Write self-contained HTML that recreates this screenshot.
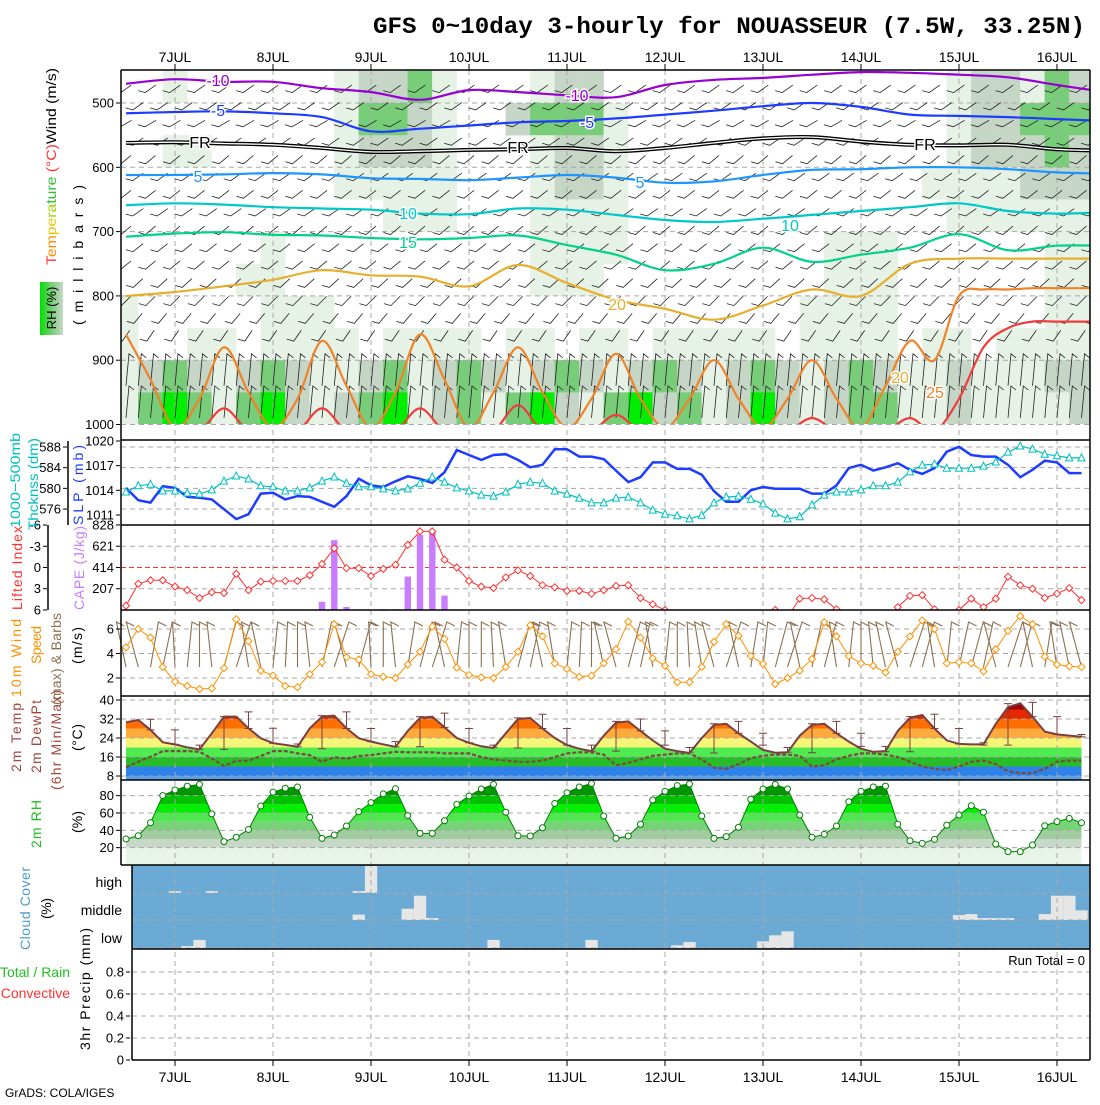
<!DOCTYPE html>
<html><head><meta charset="utf-8"><title>GFS meteogram NOUASSEUR</title>
<style>
body{margin:0;background:#fff;width:1100px;height:1100px;overflow:hidden}
svg text{font-family:"Liberation Sans",sans-serif}
</style></head>
<body>
<svg id="c" width="1100" height="1100" viewBox="0 0 1100 1100" xmlns="http://www.w3.org/2000/svg">
<defs>
<clipPath id="clipTop"><rect x="121" y="70" width="969" height="354"/></clipPath>
<clipPath id="clipLI"><rect x="121" y="525" width="969" height="85"/></clipPath>
<linearGradient id="rhKey" x1="0" x2="1" y1="0" y2="0"><stop offset="0" stop-color="#00e000"/><stop offset="0.5" stop-color="#78cd78"/><stop offset="1" stop-color="#c8d8c8"/></linearGradient>
</defs>
<rect x="0" y="0" width="1100" height="1100" fill="#fff"/>
<g id="gFill"></g>
<g id="gGrid"></g>
<g id="gMarks"></g>
<g id="gText"></g>

<text x="373" y="33" font-family="Liberation Mono, monospace" style="font-family:'Liberation Mono',monospace" font-weight="bold" font-size="23" textLength="712" lengthAdjust="spacingAndGlyphs">GFS 0~10day 3-hourly for NOUASSEUR (7.5W, 33.25N)</text>

<text transform="rotate(-90 56 265)" x="56" y="265" font-size="14" textLength="197" lengthAdjust="spacingAndGlyphs"><tspan fill="#ff3030">T</tspan><tspan fill="#ff8c00">em</tspan><tspan fill="#e6c800">pe</tspan><tspan fill="#a0d000">ra</tspan><tspan fill="#30c030">ture</tspan><tspan fill="#ff3030"> (°C)</tspan><tspan fill="#000">Wind (m/s)</tspan></text>
<rect x="40" y="282" width="23" height="53" fill="url(#rhKey)"/>
<text transform="rotate(-90 56 308)" x="56" y="308" font-size="13" text-anchor="middle">RH (%)</text>
<text transform="rotate(-90 83 325)" x="83" y="325" font-size="14" textLength="140" lengthAdjust="spacing">(millibars)</text>

<text transform="rotate(-90 20 528)" x="20" y="528" font-size="14" fill="#00c0c0" textLength="95" lengthAdjust="spacingAndGlyphs">1000−500mb</text>
<text transform="rotate(-90 38 530)" x="38" y="530" font-size="14" fill="#00c0c0" textLength="92" lengthAdjust="spacingAndGlyphs">Thcknss (dm)</text>
<text transform="rotate(-90 83 525)" x="83" y="525" font-size="14" fill="#1e3cff" textLength="80" lengthAdjust="spacing">SLP (mb)</text>
<text transform="rotate(-90 22 610)" x="22" y="610" font-size="14" fill="#ff3030" textLength="84" lengthAdjust="spacing">Lifted Index</text>
<text transform="rotate(-90 84 610)" x="84" y="610" font-size="14" fill="#c87cff" textLength="84" lengthAdjust="spacing">CAPE (J/kg)</text>
<text transform="rotate(-90 21 697)" x="21" y="697" font-size="14" fill="#ff9000" textLength="78" lengthAdjust="spacing">10m Wind</text>
<text transform="rotate(-90 41 664)" x="41" y="664" font-size="14" fill="#ff9000" textLength="38" lengthAdjust="spacing">Speed</text>
<text transform="rotate(-90 61 705)" x="61" y="705" font-size="14" fill="#8c7050" textLength="92" lengthAdjust="spacing">(max) &amp; Barbs</text>
<text transform="rotate(-90 82 664)" x="82" y="664" font-size="14" textLength="37" lengthAdjust="spacing">(m/s)</text>
<text transform="rotate(-90 21 772)" x="21" y="772" font-size="14" fill="#a0463c" textLength="69" lengthAdjust="spacing">2m Temp</text>
<text transform="rotate(-90 41 773)" x="41" y="773" font-size="14" fill="#a0463c" textLength="73" lengthAdjust="spacing">2m DewPt</text>
<text transform="rotate(-90 61 790)" x="61" y="790" font-size="14" fill="#a0463c" textLength="100" lengthAdjust="spacing">(6hr Min/Max)</text>
<text transform="rotate(-90 82 751)" x="82" y="751" font-size="14" textLength="27" lengthAdjust="spacing">(°C)</text>
<text transform="rotate(-90 41 848)" x="41" y="848" font-size="14" fill="#20c020" textLength="48" lengthAdjust="spacing">2m RH</text>
<text transform="rotate(-90 82 833)" x="82" y="833" font-size="14" textLength="22" lengthAdjust="spacing">(%)</text>
<text transform="rotate(-90 30 950)" x="30" y="950" font-size="14" fill="#4a9ad0" textLength="83" lengthAdjust="spacing">Cloud Cover</text>
<text transform="rotate(-90 51 919)" x="51" y="919" font-size="14" textLength="21" lengthAdjust="spacing">(%)</text>
<text x="122" y="887" font-size="14" text-anchor="end">high</text>
<text x="122" y="915" font-size="14" text-anchor="end">middle</text>
<text x="122" y="943" font-size="14" text-anchor="end">low</text>
<text x="70" y="977" font-size="14" text-anchor="end" fill="#20c020">Total / Rain</text>
<text x="70" y="998" font-size="14" text-anchor="end" fill="#ff3030">Convective</text>
<text transform="rotate(-90 90 1050)" x="90" y="1050" font-size="14" textLength="122" lengthAdjust="spacing">3hr Precip (mm)</text>
<text x="1085" y="965" font-size="13" text-anchor="end">Run Total = 0</text>
<text x="5" y="1097" font-size="12">GrADS: COLA/IGES</text>
</svg>
<script>
const days = ['7JUL','8JUL','9JUL','10JUL','11JUL','12JUL','13JUL','14JUL','15JUL','16JUL'];
const slp = [1014.3,1012.8,1012.5,1014.5,1014.3,1013.2,1013.1,1012.9,1011.7,1010.5,1011.1,1013.6,1013.7,1012.9,1013.3,1013.2,1012.6,1012.0,1013.3,1015.4,1014.6,1014.4,1015.1,1015.7,1015.4,1014.9,1016.2,1018.9,1018.3,1017.7,1018.3,1018.4,1017.7,1016.8,1017.1,1019.0,1019.0,1018.1,1018.1,1017.8,1016.4,1015.0,1015.6,1017.4,1017.4,1016.6,1016.6,1015.9,1013.9,1012.6,1012.6,1014.0,1014.4,1014.2,1014.2,1014.2,1013.6,1013.6,1014.6,1016.7,1017.1,1016.4,1016.8,1017.3,1016.5,1016.0,1016.7,1018.7,1019.3,1018.3,1018.1,1018.1,1017.1,1015.6,1016.5,1017.6,1017.4,1016.1,1016.1];
const thick = [579.3,580.5,580.8,579.5,579.5,579.1,578.9,579.7,581.4,582.4,581.8,580.5,580.3,579.5,579.5,580.1,581.4,582.2,581.0,580.3,580.3,579.9,579.5,579.9,581.0,582.2,581.2,580.1,579.5,578.7,578.5,579.3,580.8,581.2,581.0,579.5,578.9,578.1,577.2,577.2,578.1,578.3,577.2,575.8,575.0,574.7,574.1,574.8,577.2,578.3,578.5,577.9,577.0,575.2,574.1,574.5,576.8,578.7,579.3,579.3,579.7,580.5,580.5,581.2,583.2,584.5,584.7,583.9,583.9,583.9,584.3,585.1,587.0,588.2,587.6,586.6,586.3,585.9,585.9];
const liftedIndex = [5.4,2.3,1.8,1.8,2.7,3.2,4.3,3.5,3.6,0.9,3.2,2.0,1.9,1.9,1.9,1.1,-0.5,-2.7,0.1,0.1,1.2,0.2,-0.4,-3.2,-5.1,-5.1,-1.1,0.0,1.9,2.7,2.9,1.4,0.4,1.2,2.5,2.8,3.3,3.3,3.7,3.2,2.6,2.5,4.3,5.2,6.0,8,8,8,8,8,8,8,8,6.0,7,4.4,4.3,4.5,5.9,8,8,8,8,5.6,4.0,3.9,5.9,7,6.0,4.4,5.6,4.4,1.3,2.5,3.0,4.3,3.7,2.9,4.6];
const cape = [0,0,0,0,0,0,0,0,0,10,0,0,0,0,0,0,80,680,30,0,0,8,8,325,730,770,140,0,0,0,0,0,0,0,0,0,0,0,0,0,0,0,0,0,0,0,0,0,0,0,0,0,0,0,0,0,0,0,0,0,0,0,0,0,0,0,0,0,0,0,0,0,0,0,0,0,0,0,0];
const windSpeed = [4.5,6.0,5.3,2.9,1.7,1.35,1.1,1.15,2.8,6.8,5.0,2.6,2.2,1.35,1.25,2.3,3.3,6.4,3.7,3.5,2.3,2.1,2.0,3.1,4.15,6.2,5.2,2.85,2.25,2.05,2.0,2.9,4.15,6.3,5.4,3.2,2.75,2.1,2.2,3.2,4.35,6.6,5.3,3.6,3.0,1.65,1.65,2.9,4.95,6.4,5.45,3.8,3.15,1.5,2.0,2.6,3.55,6.55,5.4,3.8,3.2,3.0,2.45,4.15,5.4,6.7,6.0,3.2,3.3,3.2,2.55,4.35,5.85,7.05,6.4,3.75,3.1,2.95,2.9];
const windTilt = [-12,-15,10,12,-3,6,0,-6,15,18,-9,-12,6,3,0,-6,12,18,-15,15,-3,0,-6,9,15,18,-12,6,0,0,-3,-9,15,12,-12,-9,6,3,0,-12,-15,15,12,-9,6,0,-3,-9,-15,18,-12,9,6,15,18,-12,12,15,-9,6,0,-6,-12,-15,18,15,-9,6,12,15,12,-15,18,15,-12,9,-9,-12,-15];
const temp2m = [30.6,31.6,27.4,22.2,21.3,20.1,19.2,26,33,33,28.1,23.9,21.8,21.1,20.3,28.1,33,33.4,28.1,23.9,22.5,21.3,20.3,27,32.5,33,28.5,24,22,20.5,19.8,26,32,32.4,28,24,21,19.5,18.5,25,30.5,31,27,23,19.5,18.5,17.7,24,29.5,30,26,22.5,19,17.8,18,25,29.5,30,26,22.5,19.5,18.2,18.5,27,32.5,33.7,28,23,21.5,21.3,21.3,30,37,38.6,33,26.7,25.5,25,24.5];
const dewpt2m = [11.7,14,16.1,18.5,18.5,18.5,18.2,15.4,12.2,14.4,14.4,16.4,18.5,18.5,17.5,16.8,14,15.9,15.3,16.4,16.8,17.5,18.2,18,18,18,17.5,17.5,17.5,16,15,14.5,14,14,14.5,16,17.5,18,18,17,12.5,13.5,15,16.5,17,17.5,17.5,15,11.5,11,13,15.5,16.5,17,17,16.5,12,12.5,15,16.5,17.5,17.5,17,16,14,12,11,10.5,12,14,14.5,13,10,9.2,9.2,11,14,14.5,14.5];
const tmax6 = [31.9,27.4,21,33,35,28.1,21.5,33.4,35,28,22.5,33,34.5,28,21,32.5,34,28,21,31,32,27,20,30,31,26,20,30,31,26,20.5,33,34,28,22,38.5,39,33,25.5];
const tmin6 = [27.4,21.3,19.2,19.2,28,21.8,20.3,19.5,28,22.5,20.3,20.3,28.5,22,20,19.8,28,21,18.5,18.5,27,21,18,17.7,26,21,18,17.8,26,20.5,18.2,18.2,28,21.5,21,21,33,25.5,24.5];
const rh2m = [30,33.8,48.8,80,86.5,91,93,59,27,32,41,68,84,88.5,90,55,30.7,34.6,45,61.5,72,82,88,57,36.5,36.5,51,70,79.6,87.7,93,60.8,33.8,33.5,43,71,83.4,90,94,56.5,30.7,33.5,47,75,85,91.5,93.4,56.5,30.7,32.7,43.5,75.8,87.7,93,87.7,57.7,32,35.4,45,73,85,90,91,47,28,25,29.6,46,57.7,68.4,60.8,24.2,15.4,15.4,23,45.3,50,53.8,48.8];
const cloudHigh = [0,0,0,0,7,0,0,7,0,0,0,0,0,0,0,0,0,0,0,7,100,0,0,0,0,0,0,0,0,0,0,0,0,0,0,0,0,0,0,0,0,0,0,0,0,0,0,0,0,0,0,0,0,0,0,0,0,0,0,0,0,0,0,0,0,0,0,0,0,0,0,0,0,0,0,0,0,0,0];
const cloudMid = [0,0,0,0,0,0,0,0,0,0,0,0,0,0,0,0,0,0,0,20,0,0,0,42,90,7,0,0,0,0,0,0,0,0,0,0,0,0,0,0,0,0,0,0,0,0,0,0,0,0,0,0,0,0,0,0,0,0,0,0,0,0,0,0,0,0,0,0,18,22,7,7,7,0,0,22,90,90,36];
const cloudLow = [0,0,0,0,0,7,30,0,0,0,0,0,0,0,0,0,0,0,0,0,0,0,0,0,0,0,0,0,0,0,30,0,0,0,0,0,0,0,30,0,0,0,0,0,0,10,22,0,0,0,0,0,25,47,62,0,0,0,0,0,0,0,0,0,0,0,0,0,0,0,0,0,0,0,0,0,0,0,0];
const precip = [0,0,0,0,0,0,0,0,0,0,0,0,0,0,0,0,0,0,0,0,0,0,0,0,0,0,0,0,0,0,0,0,0,0,0,0,0,0,0,0,0,0,0,0,0,0,0,0,0,0,0,0,0,0,0,0,0,0,0,0,0,0,0,0,0,0,0,0,0,0,0,0,0,0,0,0,0,0,0];
// isotherm pressures every 12h from 6JUL12Z
const isoM10 = [470,463,467,467,477,483,495,480,483,488,491,472,464,461,456,452,453,456,460,472,483];
const isoM5 = [516,514,513,516,522,544,540,535,530,528,524,518,512,505,500,506,518,520,522,525,528];
const isoFR = [562,561,563,565,570,576,575,573,572,570,575,570,562,555,553,560,565,566,565,572,574];
const iso5 = [612,612,611,609,611,617,618,620,616,612,616,624,622,612,604,603,600,600,603,608,610];
const iso10 = [659,656,658,662,664,666,672,673,664,666,674,682,685,680,674,668,662,656,668,672,670];
const iso15 = [708,703,701,705,706,710,712,710,706,721,736,760,750,725,747,736,725,704,729,722,722];
const iso20 = [800,794,785,775,760,768,770,785,752,780,806,820,837,815,790,800,750,742,742,742,742];
// near-surface isotherms every 6h from 6JUL12Z
const iso25 = [860,930,1005,960,880,950,1005,960,870,940,1005,950,860,930,1005,950,880,950,1005,960,890,960,1005,960,900,960,1005,960,900,960,1005,940,870,900,800,790,790,788,788,788,788];
const iso30 = [1010,1010,1010,1010,975,1010,1010,1010,975,1010,1010,1010,975,1010,1010,1010,970,1010,1010,1010,985,1010,1010,1010,1010,1010,1010,1010,990,1010,1010,1010,990,1010,960,880,850,840,840,840,840];
const rhLayerTops = [450,500,550,600,650,700,750,800,850,900,950];
const rhGrid = [
 "0010000001223100012200000000000000122132",
 "0000000001332100233310000000000000122333",
 "0011000001222100012210000000000000122232",
 "0000000001111100012210000000000001111222",
 "0000000000011100011110000000000000111111",
 "0000001000000000011110000000011100000011",
 "0000011000000000011100000000011100000011",
 "1000001110000000000000000000111100000011",
 "1001101111011110110110111110111101101111",
 "1232123211231232123212321232123211211122",
 "1343134212341231342134231242123311211112"
];
const rhColors = ['none','#e6f2e6','#c6d6c6','#78cd78','#00ee00'];
const barbLevels = [478,505,532,560,588,615,642,670,698,725,752,780,808,835,862];
const barbAngles = [35,35,30,35,40,35,38,35,40,38,40,42,45,50,55];
const lowBarbLevels = [915,965];

const NS = 'http://www.w3.org/2000/svg';
const gFill = document.getElementById('gFill');
const gGrid = document.getElementById('gGrid');
const gMarks = document.getElementById('gMarks');
const gText = document.getElementById('gText');
function mk(tag, attrs, parent){const e=document.createElementNS(NS,tag);for(const k in attrs)e.setAttribute(k,attrs[k]);parent.appendChild(e);return e;}
const X = i => 126 + 12.25*i;
const DX = d => 175 + 98*d;
const PY = p => 103 + (p-500)*0.643;
const slpY = v => 441 + (1020-v)*8.22;
const thkY = v => 447 + (588-v)*5.17;
const liY = v => 567.5 + v*7.08;
const capeY = v => 610 - v*0.1027;
const wsY = v => 629 + (6-v)*12.25;
const tY = v => 700 + (40-v)*2.375;
const rhY = v => 865 - v*0.867;
const prY = v => 1060 - v*110;
const N = slp.length;

function smoothPath(pts){
  let d = 'M'+pts[0][0].toFixed(1)+','+pts[0][1].toFixed(1);
  for(let i=0;i<pts.length-1;i++){
    const p0=pts[Math.max(i-1,0)],p1=pts[i],p2=pts[i+1],p3=pts[Math.min(i+2,pts.length-1)];
    const c1=[p1[0]+(p2[0]-p0[0])/6,p1[1]+(p2[1]-p0[1])/6];
    const c2=[p2[0]-(p3[0]-p1[0])/6,p2[1]-(p3[1]-p1[1])/6];
    d+=' C'+c1[0].toFixed(1)+','+c1[1].toFixed(1)+' '+c2[0].toFixed(1)+','+c2[1].toFixed(1)+' '+p2[0].toFixed(1)+','+p2[1].toFixed(1);
  }
  return d;
}
function polyPts(arr, yf){return arr.map((v,i)=>X(i).toFixed(1)+','+yf(v).toFixed(1)).join(' ');}

const topFill = mk('g',{'clip-path':'url(#clipTop)'},gFill);


rhLayerTops.forEach((pTop,r)=>{
  const row = rhGrid[r];
  for(let c=0;c<row.length;c++){
    const k = +row[c]; if(!k) continue;
    const xc = DX(-0.5+0.25*c);
    const cell = mk('rect',{x:(xc-12.4).toFixed(1),y:PY(pTop).toFixed(1),width:24.8,height:(PY(pTop+50)-PY(pTop)+0.3).toFixed(1),fill:rhColors[k]},topFill);
    
    
  }
});

const tClip = mk('clipPath',{id:'clipT'},gFill);
mk('polygon',{points:X(0)+',780 '+polyPts(temp2m,tY)+' '+X(N-1)+',780'},tClip);
const tBands = [[-10,8,'#5aa0e6'],[8,12,'#2d82eb'],[12,16,'#28bc28'],[16,20,'#50eb50'],[20,24,'#f5f578'],[24,28,'#ffaa3c'],[28,32,'#ff6e00'],[32,36,'#e62800'],[36,45,'#a00000']];
const tg = mk('g',{'clip-path':'url(#clipT)'},gFill);


tBands.forEach(b=>{const r=mk('rect',{x:121,y:Math.max(tY(b[1]),697),width:969,height:Math.min(tY(b[0]),780)-Math.max(tY(b[1]),697),fill:b[2]},tg);
  
  });

const rClip = mk('clipPath',{id:'clipRH'},gFill);
mk('polygon',{points:X(0)+',865 '+polyPts(rh2m,rhY)+' '+X(N-1)+',865'},rClip);
const rBands = [[0,20,'#e8f4e8'],[20,30,'#c8d8c8'],[30,40,'#a0cca0'],[40,50,'#78d278'],[50,60,'#50e650'],[60,70,'#00f000'],[70,80,'#00c000'],[80,100,'#009600']];
const rg = mk('g',{'clip-path':'url(#clipRH)'},gFill);


rBands.forEach(b=>{const r=mk('rect',{x:121,y:Math.max(rhY(b[1]),781),width:969,height:rhY(b[0])-Math.max(rhY(b[1]),781),fill:b[2]},rg);
  
  });

const cbg = mk('rect',{x:132,y:865,width:958,height:84,fill:'#6aaad4'},gFill);


[[cloudHigh,893],[cloudMid,920],[cloudLow,948]].forEach(([arr,base])=>{
  arr.forEach((v,i)=>{ if(!v) return;
    const h = v*0.27;
    const r = mk('rect',{x:(X(i)-6.1).toFixed(1),y:(base-h).toFixed(1),width:12.3,height:h.toFixed(1),fill:'#e6e6e6'},gFill);
    
    
  });
});

const gridStyle = {stroke:'#a8a8a8','stroke-width':1,'stroke-dasharray':'5,4',fill:'none'};
days.forEach((d,k)=>{
  const l = mk('line',Object.assign({x1:DX(k),x2:DX(k),y1:70,y2:1060},gridStyle),gGrid);
  
  
});
const hLines = [];
[500,600,700,800,900,1000].forEach(p=>hLines.push([PY(p),121]));
[588,584,580,576].forEach(v=>hLines.push([thkY(v),121]));
[-3,3].forEach(v=>hLines.push([liY(v),121]));
[6,4,2].forEach(v=>hLines.push([wsY(v),121]));
[40,32,24,16,8].forEach(v=>hLines.push([tY(v),121]));
[80,60,40,20].forEach(v=>hLines.push([rhY(v),121]));
[893,920,948].forEach(y=>hLines.push([y,132]));
[0.8,0.6,0.4,0.2].forEach(v=>hLines.push([prY(v),132]));
hLines.forEach(([y,x0])=>{const l=mk('line',Object.assign({x1:x0,x2:1090,y1:y,y2:y},gridStyle),gGrid);
  
  });
const zl = mk('line',{x1:121,x2:1090,y1:liY(0),y2:liY(0),stroke:'#ff3030','stroke-width':1,'stroke-dasharray':'5,3'},gGrid);



const topG = mk('g',{'clip-path':'url(#clipTop)'},gMarks);


let bd='';
barbLevels.forEach((p,r)=>{
  const a = barbAngles[r]*Math.PI/180, L=13, y=PY(p);
  const off = (r%2)*12;
  for(let i=0;i<N;i+=2){
    const x=X(i)+off, x0=x-L/2*Math.cos(a), y0=y+L/2*Math.sin(a), x1=x+L/2*Math.cos(a), y1=y-L/2*Math.sin(a);
    bd+='M'+(x0-7).toFixed(1)+','+(y0-2).toFixed(1)+'L'+x0.toFixed(1)+','+y0.toFixed(1)+'L'+x1.toFixed(1)+','+y1.toFixed(1);
  }
});
lowBarbLevels.forEach(p=>{
  const y=PY(p);
  for(let i=0;i<N;i++){
    const x=X(i);
    bd+='M'+x.toFixed(1)+','+(y+16).toFixed(1)+'L'+(x+3).toFixed(1)+','+(y-16).toFixed(1)+'L'+(x+8).toFixed(1)+','+(y-12).toFixed(1);
  }
});
const barbs = mk('path',{d:bd,stroke:'#222',fill:'none','stroke-width':0.8},topG);


const isoList = [[isoM10,0.5,'#9600d2','isotherm-minus10'],[isoM5,0.5,'#1e3cff','isotherm-minus5'],[iso5,0.5,'#1e96ff','isotherm-5'],[iso10,0.5,'#00c8c8','isotherm-10'],[iso15,0.5,'#00d28c','isotherm-15'],[iso20,0.5,'#e6af2d','isotherm-20'],[iso25,0.25,'#f08228','isotherm-25'],[iso30,0.25,'#f03c3c','isotherm-30']];
isoList.forEach(([arr,step,col,name])=>{
  const pts = arr.map((p,k)=>[DX(-0.5+step*k),PY(p)]);
  const path = mk('path',{d:smoothPath(pts),stroke:col,'stroke-width':2.2,fill:'none'},topG);
  
  
});
const frPts = isoFR.map((p,k)=>[DX(-0.5+0.5*k),PY(p)]);
const fr1 = mk('path',{d:smoothPath(frPts),stroke:'#000','stroke-width':4,fill:'none'},topG);


const fr2 = mk('path',{d:smoothPath(frPts),stroke:'#fff','stroke-width':1.3,fill:'none'},topG);


const cLabels = [['-10',218,86,'#9600d2'],['-10',577,101,'#9600d2'],['-5',218,116,'#1e3cff'],['-5',587,128,'#1e3cff'],['FR',200,148,'#000'],['FR',518,153,'#000'],['FR',925,150,'#000'],['5',198,182,'#1e96ff'],['5',640,188,'#1e96ff'],['10',408,219,'#00c8c8'],['10',790,231,'#00c8c8'],['15',408,248,'#00d28c'],['20',617,310,'#e6af2d'],['20',900,383,'#e6af2d'],['25',935,398,'#f08228']];
cLabels.forEach(([t,x,y,c])=>{
  const e = mk('text',{x:x,y:y,fill:c,'font-size':16,'text-anchor':'middle',stroke:'#fff','stroke-width':3,'paint-order':'stroke'},gText);
  e.textContent=t;
  
  
});

const slpLine = mk('polyline',{points:polyPts(slp,slpY),stroke:'#1e3cff','stroke-width':2.5,fill:'none'},gMarks);


const thkLine = mk('polyline',{points:polyPts(thick,thkY),stroke:'#00c0c0','stroke-width':1.2,fill:'none'},gMarks);


thick.forEach((v,i)=>{const x=X(i),y=thkY(v);
  const t=mk('polygon',{points:(x-3.5)+','+(y+3)+' '+(x+3.5)+','+(y+3)+' '+x+','+(y-4),fill:'#fff',stroke:'#00c0c0','stroke-width':1},gMarks);
  
  });

cape.forEach((v,i)=>{ if(!v) return;
  const b=mk('rect',{x:(X(i)-3.2).toFixed(1),y:capeY(v).toFixed(1),width:6.4,height:(610-capeY(v)).toFixed(1),fill:'#c87cff'},gMarks);
  
  });
const liG = mk('g',{'clip-path':'url(#clipLI)'},gMarks);


const liLine = mk('polyline',{points:polyPts(liftedIndex,liY),stroke:'#ff3030','stroke-width':1,fill:'none'},liG);


liftedIndex.forEach((v,i)=>{const x=X(i),y=liY(v);
  const d=mk('polygon',{points:(x-3.5)+','+y+' '+x+','+(y-3.5)+' '+(x+3.5)+','+y+' '+x+','+(y+3.5),fill:'#fff',stroke:'#ff3030','stroke-width':1},liG);
  
  });

let wb='';
windTilt.forEach((a,i)=>{const x=X(i), dx=45*Math.tan(a*Math.PI/180);
  wb+='M'+x.toFixed(1)+',667L'+(x+dx).toFixed(1)+',622L'+(x+dx+8).toFixed(1)+',626';});
const wbp = mk('path',{d:wb,stroke:'#8c7050','stroke-width':1.1,fill:'none'},gMarks);


const wsLine = mk('polyline',{points:polyPts(windSpeed,wsY),stroke:'#ff9000','stroke-width':1,fill:'none'},gMarks);


windSpeed.forEach((v,i)=>{const x=X(i),y=wsY(v);
  const d=mk('polygon',{points:(x-3.5)+','+y+' '+x+','+(y-3.5)+' '+(x+3.5)+','+y+' '+x+','+(y+3.5),fill:'#fff',stroke:'#ff9000','stroke-width':1},gMarks);
  
  });

const tLine = mk('polyline',{points:polyPts(temp2m,tY),stroke:'#7a4040','stroke-width':2,fill:'none'},gMarks);


const dLine = mk('polyline',{points:polyPts(dewpt2m,tY),stroke:'#7a4a40','stroke-width':2.2,fill:'none','stroke-dasharray':'4,2'},gMarks);


tmax6.forEach((hi,j)=>{const i=2+2*j, x=X(i), y1=tY(hi), y2=tY(tmin6[j]);
  const e=mk('path',{d:'M'+(x-4)+','+y1+'H'+(x+4)+'M'+x+','+y1+'V'+y2+'M'+(x-4)+','+y2+'H'+(x+4),stroke:'#7a4040','stroke-width':1,fill:'none'},gMarks);
  
  });

const rhLine = mk('polyline',{points:polyPts(rh2m,rhY),stroke:'#008000','stroke-width':1,fill:'none'},gMarks);


rh2m.forEach((v,i)=>{
  const c=mk('circle',{cx:X(i),cy:rhY(v),r:3,fill:'#fff',stroke:'#008000','stroke-width':1},gMarks);
  
  });

precip.forEach((v,i)=>{ if(!v) return;
  const b=mk('rect',{x:X(i)-5,y:prY(v),width:10,height:1060-prY(v),fill:'#20c020'},gMarks);
  
  });

const frame = [[121,70,1090,70],[121,70,121,865],[1090,70,1090,1060],[121,440,1090,440],[121,525,1090,525],[121,610,1090,610],[121,696,1090,696],[121,780,1090,780],[121,865,1090,865],[132,865,132,1060],[132,949,1090,949],[132,1060,1090,1060],[68,441,68,525],[48,525,48,610]];
frame.forEach(f=>{const l=mk('line',{x1:f[0],y1:f[1],x2:f[2],y2:f[3],stroke:'#000','stroke-width':1.5},gMarks);
  
  });
days.forEach((d,k)=>{
  const t1=mk('line',{x1:DX(k),x2:DX(k),y1:64,y2:70,stroke:'#000'},gMarks);
  
  
  const t2=mk('line',{x1:DX(k),x2:DX(k),y1:1060,y2:1066,stroke:'#000'},gMarks);
  
  
  const a=mk('text',{x:DX(k),y:62,'font-size':14,'text-anchor':'middle'},gText);
  a.textContent=d;
  
  
  const b=mk('text',{x:DX(k),y:1082,'font-size':14,'text-anchor':'middle'},gText);
  b.textContent=d;
  
  
});

function tick(txt,x,y,name,col){
  const t=mk('text',{x:x,y:y+4.5,'font-size':13,'text-anchor':'end',fill:col||'#000'},gText);
  t.textContent=txt;
  
  
  const l=mk('line',{x1:x+2,x2:x+6,y1:y,y2:y,stroke:'#000'},gText);
  
  
}
const pTicks=[500,600,700,800,900,1000];
pTicks.forEach(p=>tick(String(p),114,PY(p),'pressure-tick'));
const slpTicks=[1020,1017,1014,1011];
slpTicks.forEach(v=>tick(String(v),114,slpY(v),'slp-tick'));
const thkTicks=[588,584,580,576];
thkTicks.forEach(v=>tick(String(v),61,thkY(v),'thickness-tick'));
const liTicks=[-6,-3,0,3,6];
liTicks.forEach(v=>tick(String(v),41,liY(v),'li-tick'));
const capeTicks=[828,621,414,207];
capeTicks.forEach(v=>tick(String(v),114,capeY(v),'cape-tick'));
const wsTicks=[6,4,2];
wsTicks.forEach(v=>tick(String(v),114,wsY(v),'wind-speed-tick'));
const tTicks=[40,32,24,16,8];
tTicks.forEach(v=>tick(String(v),114,tY(v),'temp-tick'));
const rhTicks=[80,60,40,20];
rhTicks.forEach(v=>tick(String(v),114,rhY(v),'rh-tick'));
const prTicks=['0.8','0.6','0.4','0.2','0'];
prTicks.forEach(v=>tick(v,124,prY(+v),'precip-tick'));
</script>
</body></html>
